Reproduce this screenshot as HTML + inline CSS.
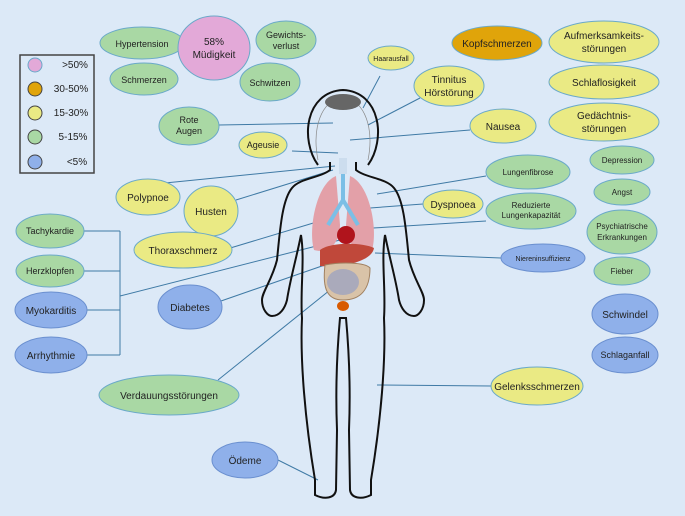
<!DOCTYPE html>
<html><head><meta charset="utf-8"><style>
body{margin:0;background:#dce9f7;}
svg{display:block;font-family:"Liberation Sans",sans-serif;}
text{font-size:10px;fill:#222;text-anchor:middle;}
.g{fill:#a9d8a4;stroke:#6aa9c9;stroke-width:1}
.y{fill:#eaea84;stroke:#6aa9c9;stroke-width:1}
.b{fill:#8fb0ea;stroke:#6a8fcf;stroke-width:1}
.p{fill:#e3a9d8;stroke:#6aa9c9;stroke-width:1}
.o{fill:#e0a40a;stroke:#6aa9c9;stroke-width:1}
.l{stroke:#3f7aa5;stroke-width:1;fill:none}
.k{stroke:#111;stroke-width:2;fill:none}
</style></head><body>
<svg width="685" height="516" viewBox="0 0 685 516">
<rect width="685" height="516" fill="#dce9f7"/>
<rect x="20" y="55" width="74" height="118" fill="none" stroke="#444" stroke-width="1.5"/>
<circle cx="35" cy="65" r="7" class="p" stroke="#444"/><text x="75" y="68">&gt;50%</text>
<circle cx="35" cy="89" r="7" class="o" style="stroke:#444"/><text x="71" y="92">30-50%</text>
<circle cx="35" cy="113" r="7" class="y" style="stroke:#444"/><text x="71" y="116">15-30%</text>
<circle cx="35" cy="137" r="7" class="g" style="stroke:#444"/><text x="73" y="140">5-15%</text>
<circle cx="35" cy="162" r="7" class="b" style="stroke:#444"/><text x="77" y="165">&lt;5%</text>

<g class="l">
<line x1="219" y1="125" x2="333" y2="123"/>
<line x1="292" y1="151" x2="338" y2="153"/>
<line x1="165" y1="183" x2="335" y2="166"/>
<line x1="236" y1="200" x2="333" y2="170"/>
<line x1="380" y1="76" x2="363" y2="108"/>
<line x1="420" y1="98" x2="368" y2="125"/>
<line x1="470" y1="130" x2="350" y2="140"/>
<line x1="486" y1="176" x2="377" y2="194"/>
<line x1="423" y1="204" x2="370" y2="208"/>
<line x1="486" y1="221" x2="373" y2="228"/>
<line x1="501" y1="258" x2="375" y2="253"/>
<line x1="491" y1="386" x2="377" y2="385"/>
<line x1="227" y1="249" x2="320" y2="221"/>
<line x1="120" y1="296" x2="340" y2="240"/>
<line x1="221" y1="301" x2="345" y2="258"/>
<line x1="218" y1="380" x2="335" y2="286"/>
<line x1="278" y1="460" x2="318" y2="480"/>
<line x1="84" y1="231" x2="120" y2="231"/>
<line x1="84" y1="271" x2="120" y2="271"/>
<line x1="87" y1="310" x2="120" y2="310"/>
<line x1="87" y1="355" x2="120" y2="355"/>
<line x1="120" y1="231" x2="120" y2="355"/>
</g>

<path class="k" d="M318,165 C300,140 305,92 343,90 C381,92 386,140 368,165 M330,162 L330,170 C320,178 300,178 292,188 C282,200 280,230 277,260 C272,280 262,292 262,300 C262,310 268,316 272,316 C280,316 285,308 287,300 C290,280 296,260 301,235 C305,260 300,290 302,318 C300,360 305,420 315,480 L315,495 C325,500 335,498 336,490 L337,430 C335,380 338,340 340,318 L346,318 C348,340 351,380 349,430 L350,490 C351,498 361,500 371,495 L371,480 C381,420 386,360 384,318 C386,290 381,260 385,235 C390,260 396,280 399,300 C401,308 406,316 414,316 C418,316 424,310 424,300 C424,292 414,280 409,260 C406,230 404,200 394,188 C386,178 366,178 356,170 L356,162"/>
<path d="M318,160 C312,130 320,100 343,98 C366,100 374,130 368,160" fill="none" stroke="#888" stroke-width="0.7"/>
<ellipse cx="343" cy="102" rx="18" ry="8" fill="#666"/>
<path d="M336,176 C316,184 308,230 314,250 C328,254 340,244 340,225 Z" fill="#e3a0a8"/>
<path d="M350,176 C370,184 378,230 372,250 C358,254 346,244 346,225 Z" fill="#e3a0a8"/>
<path d="M343,160 L343,200 M343,200 L328,225 M343,200 L358,225" stroke="#7bbfe6" stroke-width="4" fill="none"/>
<rect x="339" y="158" width="8" height="16" fill="#cde"/>
<path d="M320,250 C330,242 362,242 374,248 C372,262 340,268 320,266 Z" fill="#c0483a"/>
<path d="M325,265 C340,262 365,262 370,268 C370,290 360,300 343,300 C328,300 322,290 325,265 Z" fill="#d9c3a8" stroke="#a08060" stroke-width="1"/>
<ellipse cx="343" cy="282" rx="16" ry="13" fill="#aab"/>
<circle cx="346" cy="235" r="9" fill="#b0141c"/>
<ellipse cx="343" cy="306" rx="6" ry="5" fill="#d85a00"/>

<ellipse cx="142" cy="43" rx="42" ry="16" class="g"/><text x="142" y="47" style="font-size:9px">Hypertension</text>
<ellipse cx="214" cy="48" rx="36" ry="32" class="p"/><text x="214" y="45">58%</text><text x="214" y="58">Müdigkeit</text>
<ellipse cx="286" cy="40" rx="30" ry="19" class="g"/><text x="286" y="38" style="font-size:9px">Gewichts-</text><text x="286" y="49" style="font-size:9px">verlust</text>
<ellipse cx="144" cy="79" rx="34" ry="16" class="g"/><text x="144" y="83" style="font-size:9px">Schmerzen</text>
<ellipse cx="270" cy="82" rx="30" ry="19" class="g"/><text x="270" y="86" style="font-size:9px">Schwitzen</text>
<ellipse cx="391" cy="58" rx="23" ry="12" class="y"/><text x="391" y="61" style="font-size:7px">Haarausfall</text>
<ellipse cx="449" cy="86" rx="35" ry="20" class="y"/><text x="449" y="83">Tinnitus</text><text x="449" y="96">Hörstörung</text>
<ellipse cx="189" cy="126" rx="30" ry="19" class="g"/><text x="189" y="123" style="font-size:9px">Rote</text><text x="189" y="134" style="font-size:9px">Augen</text>
<ellipse cx="263" cy="145" rx="24" ry="13" class="y"/><text x="263" y="148" style="font-size:9px">Ageusie</text>
<ellipse cx="503" cy="126" rx="33" ry="17" class="y"/><text x="503" y="130">Nausea</text>
<ellipse cx="497" cy="43" rx="45" ry="17" class="o"/><text x="497" y="47">Kopfschmerzen</text>
<ellipse cx="604" cy="42" rx="55" ry="21" class="y"/><text x="604" y="39">Aufmerksamkeits-</text><text x="604" y="52">störungen</text>
<ellipse cx="604" cy="82" rx="55" ry="17" class="y"/><text x="604" y="86">Schlaflosigkeit</text>
<ellipse cx="604" cy="122" rx="55" ry="19" class="y"/><text x="604" y="119">Gedächtnis-</text><text x="604" y="132">störungen</text>
<ellipse cx="528" cy="172" rx="42" ry="17" class="g"/><text x="528" y="175" style="font-size:8px">Lungenfibrose</text>
<ellipse cx="622" cy="160" rx="32" ry="14" class="g"/><text x="622" y="163" style="font-size:8px">Depression</text>
<ellipse cx="622" cy="192" rx="28" ry="13" class="g"/><text x="622" y="195" style="font-size:8px">Angst</text>
<ellipse cx="453" cy="204" rx="30" ry="14" class="y"/><text x="453" y="208">Dyspnoea</text>
<ellipse cx="531" cy="211" rx="45" ry="18" class="g"/><text x="531" y="208" style="font-size:8px">Reduzierte</text><text x="531" y="218" style="font-size:8px">Lungenkapazität</text>
<ellipse cx="622" cy="232" rx="35" ry="22" class="g"/><text x="622" y="229" style="font-size:8px">Psychiatrische</text><text x="622" y="240" style="font-size:8px">Erkrankungen</text>
<ellipse cx="543" cy="258" rx="42" ry="14" class="b"/><text x="543" y="261" style="font-size:7px">Niereninsuffizienz</text>
<ellipse cx="622" cy="271" rx="28" ry="14" class="g"/><text x="622" y="274" style="font-size:8px">Fieber</text>
<ellipse cx="625" cy="314" rx="33" ry="20" class="b"/><text x="625" y="318">Schwindel</text>
<ellipse cx="625" cy="355" rx="33" ry="18" class="b"/><text x="625" y="358" style="font-size:9px">Schlaganfall</text>
<ellipse cx="537" cy="386" rx="46" ry="19" class="y"/><text x="537" y="390">Gelenksschmerzen</text>
<ellipse cx="148" cy="197" rx="32" ry="18" class="y"/><text x="148" y="201">Polypnoe</text>
<ellipse cx="211" cy="211" rx="27" ry="25" class="y"/><text x="211" y="215">Husten</text>
<ellipse cx="183" cy="250" rx="49" ry="18" class="y"/><text x="183" y="254">Thoraxschmerz</text>
<ellipse cx="50" cy="231" rx="34" ry="17" class="g"/><text x="50" y="234" style="font-size:9px">Tachykardie</text>
<ellipse cx="50" cy="271" rx="34" ry="16" class="g"/><text x="50" y="274" style="font-size:9px">Herzklopfen</text>
<ellipse cx="51" cy="310" rx="36" ry="18" class="b"/><text x="51" y="314">Myokarditis</text>
<ellipse cx="51" cy="355" rx="36" ry="18" class="b"/><text x="51" y="359">Arrhythmie</text>
<ellipse cx="190" cy="307" rx="32" ry="22" class="b"/><text x="190" y="311">Diabetes</text>
<ellipse cx="169" cy="395" rx="70" ry="20" class="g"/><text x="169" y="399">Verdauungsstörungen</text>
<ellipse cx="245" cy="460" rx="33" ry="18" class="b"/><text x="245" y="464">Ödeme</text>
</svg>
</body></html>
